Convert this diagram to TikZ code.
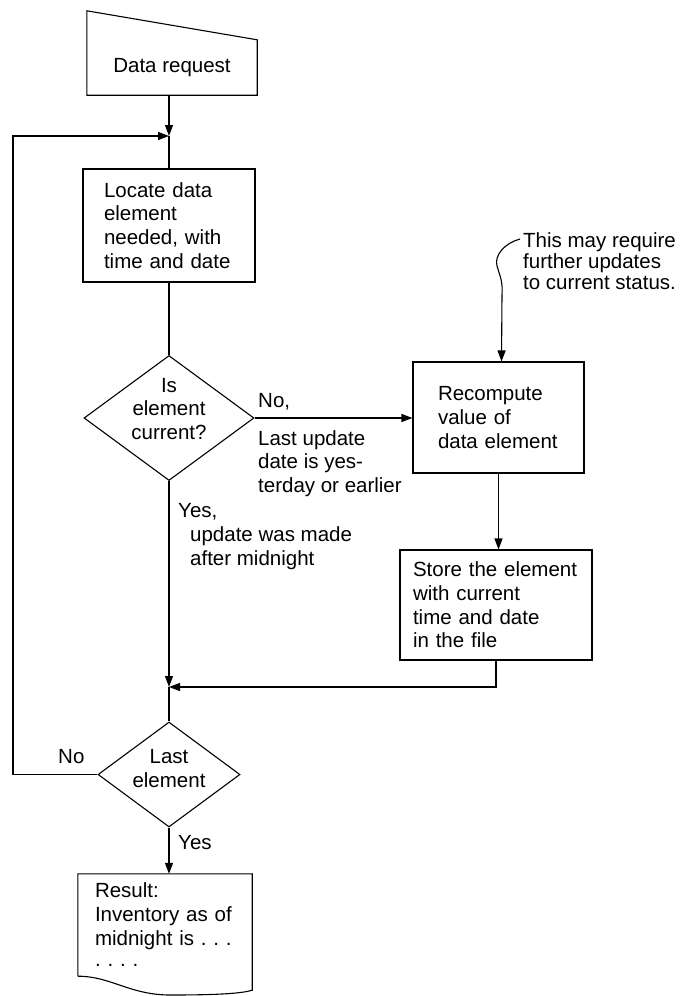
\documentclass[tikz,border=0pt]{standalone}
\usepackage{fontspec}
\setmainfont{Liberation Sans}
\usetikzlibrary{arrows.meta,shapes.geometric,calc}
\newcommand\fsz{\fontsize{20.5}{23.7}\selectfont}
\newcommand\fszb{\fontsize{20.5}{21}\selectfont}
\begin{document}
\begin{tikzpicture}[x=1pt,y=-1pt,
  ln/.style={line width=1.1pt},
  arr/.style={line width=1.1pt,-{Triangle[length=11pt,width=8pt]}},
  box/.style={draw,line width=1.1pt,rectangle,align=left,inner ysep=0pt,font=\fsz},
  dia/.style={draw,line width=1.1pt,diamond,inner sep=0pt},
  lbl/.style={align=left,inner sep=0pt,font=\fsz,anchor=west},
  ctext/.style={align=center,inner sep=0pt,font=\fsz}]
\useasboundingbox (0,0) rectangle (681,996);

% Data request (manual input)
\node[inner sep=0pt,minimum width=170pt,minimum height=55pt,font=\fsz] (dr) at (172,67.5) {Data request};
\draw[ln] (dr.south west) -- (dr.south east) -- (dr.north east) -- ([yshift=29pt]dr.north west) -- cycle;

\coordinate (j1) at (169,136);
\coordinate (lp) at (13,136);
\coordinate (j2) at (169,687);

% Locate box
\node[box,minimum height=113pt,text width=130pt,inner xsep=21pt] (loc) at (169,225.5)
  {Locate data\\element\\needed, with\\time and date};

% Decision 1
\node[dia,minimum width=170pt,minimum height=125pt] (d1) at (169,418) {};
\node[ctext] (d1t) at ([yshift=9pt]d1.center) {Is\\element\\current?};

% Recompute box
\node[box,minimum height=111pt,text width=121pt,inner xsep=25pt] (rec) at (498.5,417.5)
  {Recompute\\value of\\data element};

% Store box
\node[box,minimum height=110pt,text width=166pt,inner xsep=13pt] (st) at (496,605)
  {Store the element\\with current\\time and date\\in the file};

% Decision 2
\node[dia,minimum width=142pt,minimum height=105pt] (d2) at (169,774.5) {};
\node[ctext] (d2t) at ([yshift=6pt]d2.center) {Last\\element};

% Result document
\node[inner xsep=17pt,inner ysep=0pt,minimum width=174pt,minimum height=102pt,text width=140pt,align=left,font=\fsz] (res) at (165,925)
  {Result:\\Inventory as of\\\mbox{midnight is~.~.~.}\\[-2pt]\mbox{.~.~.~.}};
\draw[ln] (res.south west) -- (res.north west) -- (res.north east) -- ([yshift=-14pt]res.south east)
  .. controls (240,994) and (210,995) .. (170,995)
  .. controls (130,995) and (110,976) .. (res.south west);

% Annotation
\node[lbl,font=\fszb] (note) at (523,261) {This may require\\further updates\\to current status.};
\coordinate (c0) at (520,239);
\draw[arr] (c0) .. controls (505,243) and (494,255) .. (497,266)
  .. controls (500,276) and (503,282) .. (502,295) -- ([xshift=3pt]rec.north);

% Connectors
\draw[arr] (dr.south -| j1) -- (j1);
\draw[ln] (j1) -- (loc.north);
\draw[ln] (loc.south) -- (d1.north);
\draw[arr] (d1.east) -- (d1.east -| rec.west);
\draw[arr] (d1.south) -- (j2);
\draw[arr] (rec.south) -- (rec.south |- st.north);
\draw[arr] (st.south) |- (j2);
\draw[ln] (j2) -- (d2.north);
\draw[arr] (d2.west) -| (lp) -- (j1);
\draw[arr] (d2.south) -- (d2.south |- res.north);

% Labels
\node[lbl] (no1) at (258,402) {No,};
\node[lbl] (no1b) at (258,463.5) {Last update\\date is yes-\\terday or earlier};
\node[lbl] (yes1) at (178,512) {Yes,};
\node[lbl] (yes1b) at (190,548.5) {update was made\\after midnight};
\node[lbl] (no2) at (58,757) {No};
\node[lbl] (yes2) at (178,843) {Yes};
\end{tikzpicture}
\end{document}
